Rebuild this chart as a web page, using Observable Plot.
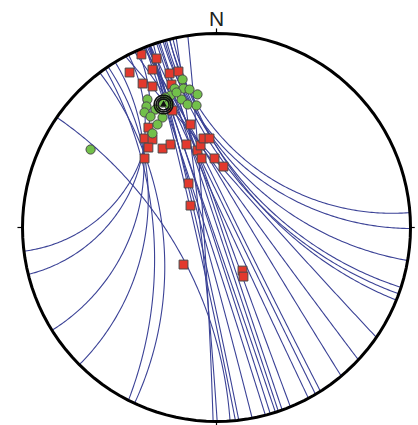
<!DOCTYPE html>
<html><head><meta charset="utf-8">
<script src="https://cdn.jsdelivr.net/npm/d3@7"></script>
<script src="https://cdn.jsdelivr.net/npm/@observablehq/plot@0.6"></script>
<style>html,body{margin:0;padding:0;background:#fff;} #chart{position:absolute;left:0;top:0;}</style>
</head><body><div id="chart"></div>
<script>
// Traces: azimuths (degrees clockwise from N) where each trace meets the primitive circle,
// and a bend (1 = arc meeting the primitive at right angles, 0 = straight)
const traceStartAz = [336, 333, 328.5, 326, 323, 325,
  346, 344, 345, 346, 344.5, 347,
  332, 335, 338, 340, 339, 338.5, 342.5, 343, 342, 339.5, 340, 338.5, 339.7, 341, 340, 348, 351.5,
  304.6];
const traceEndAz = [263, 256, 238, 225, 205, 207,
  85.6, 90.3, 99.8, 108, 110, 112,
  124.5, 133, 140, 147.6, 149.3, 151.7, 157.6, 160.2, 161.4, 162.3, 163.9, 165.4, 169.4, 173.4, 174.4, 179.8, 181,
  176];
const traceBend = [1, 1, 1, 1, 1, 0.8,
  1, 1, 1, 1, 1, 1,
  0.1, 0.1, 0.1, 0.15, 0.1, 0.15, 0.2, 0.2, 0.2, 0.2, 0.2, 0.2, 0.25, 0.25, 0.25, 0.4, 0.4,
  1];

// Red squares (unit-disk east, north)
const squareE = [-0.387,-0.309,-0.448,-0.330,-0.242,-0.196,-0.381,-0.330,-0.232,-0.227,-0.134,-0.351,-0.371,-0.330,-0.351,-0.278,-0.237,-0.155,-0.098,-0.082,-0.067,-0.036,-0.371,-0.077,-0.010,0.036,-0.144,-0.134,-0.170,0.134,0.139];
const squareN = [0.892,0.871,0.799,0.814,0.794,0.804,0.742,0.727,0.737,0.603,0.531,0.515,0.459,0.454,0.412,0.407,0.428,0.428,0.397,0.423,0.459,0.459,0.356,0.356,0.356,0.314,0.227,0.113,-0.191,-0.222,-0.253];

// Green circles (unit-disk east, north)
const circleE = [-0.175,-0.216,-0.170,-0.139,-0.098,-0.180,-0.149,-0.103,-0.237,-0.263,-0.356,-0.361,-0.371,-0.314,-0.278,-0.278,-0.304,-0.330,-0.206,-0.247,-0.340,-0.649];
const circleN = [0.763,0.716,0.716,0.711,0.686,0.660,0.634,0.629,0.680,0.670,0.660,0.624,0.593,0.608,0.644,0.567,0.531,0.485,0.696,0.634,0.572,0.402];

// Mean and confidence cones
const meanE = -0.273, meanN = 0.634;
const coneRadii = [0.048, 0.038, 0.028];
const northLabel = "N";

const rad = Math.PI / 180;
function trace(a1, a2, bend, id) {
  const p1 = [Math.sin(a1 * rad), Math.cos(a1 * rad)];
  const p2 = [Math.sin(a2 * rad), Math.cos(a2 * rad)];
  const d = (((a2 - a1) % 360) + 360) % 360;
  const h = Math.min(d, 360 - d) / 2 * rad;
  const sOrth = Math.cos(h) < 1e-6 ? 0 : Math.sin(h) * (1 - Math.sin(h)) / Math.cos(h);
  const s = bend * sOrth;
  const M = [(p1[0] + p2[0]) / 2, (p1[1] + p2[1]) / 2];
  const mLen = Math.hypot(M[0], M[1]);
  const n = 160, pts = [];
  if (Math.abs(s) < 1e-5 || mLen < 1e-6) {
    for (let i = 0; i <= n; i++) {
      const t = i / n;
      pts.push({x: p1[0] + (p2[0] - p1[0]) * t, y: p1[1] + (p2[1] - p1[1]) * t, id});
    }
    return pts;
  }
  const nv = [-M[0] / mLen, -M[1] / mLen];
  const L = Math.hypot(p2[0] - p1[0], p2[1] - p1[1]) / 2;
  const rho = (L * L + s * s) / (2 * Math.abs(s));
  const apex = [M[0] + s * nv[0], M[1] + s * nv[1]];
  const sg = Math.sign(s);
  const C = [apex[0] - sg * rho * nv[0], apex[1] - sg * rho * nv[1]];
  const t1 = Math.atan2(p1[1] - C[1], p1[0] - C[0]);
  const t2 = Math.atan2(p2[1] - C[1], p2[0] - C[0]);
  let dt = t2 - t1;
  while (dt > Math.PI) dt -= 2 * Math.PI;
  while (dt < -Math.PI) dt += 2 * Math.PI;
  for (let i = 0; i <= n; i++) {
    const t = t1 + dt * i / n;
    pts.push({x: C[0] + rho * Math.cos(t), y: C[1] + rho * Math.sin(t), id});
  }
  return pts;
}

const traces = traceStartAz.flatMap((a, i) => trace(a, traceEndAz[i], traceBend[i], i));
const squares = squareE.map((e, i) => ({x: e, y: squareN[i]}));
const greens = circleE.map((e, i) => ({x: e, y: circleN[i]}));
const ring = (cx, cy, r, id) => d3.range(0, 361, 3).map(a => ({x: cx + r * Math.sin(a * rad), y: cy + r * Math.cos(a * rad), id}));
const primitive = ring(0, 0, 1, "p");
const cones = coneRadii.flatMap((r, i) => ring(meanE, meanN, r, i));
const ticks = [
  {x1: 0, y1: 1, x2: 0, y2: 1.026},
  {x1: 0, y1: -1, x2: 0, y2: -1.022},
  {x1: -1, y1: 0, x2: -1.026, y2: 0},
  {x1: 1, y1: 0, x2: 1.022, y2: 0}
];

const chart = Plot.plot({
  width: 418, height: 425, margin: 0,
  x: {domain: [-1, 1], range: [22, 410], axis: null},
  y: {domain: [-1, 1], range: [421, 33], axis: null},
  style: {background: "#fff"},
  marks: [
    Plot.line(traces, {x: "x", y: "y", z: "id", stroke: "#3b4296", strokeWidth: 1.1}),
    Plot.dot(squares, {x: "x", y: "y", symbol: "square", r: 5, fill: "#e2392d", stroke: "#4a4a4a", strokeWidth: 1}),
    Plot.dot(greens, {x: "x", y: "y", r: 4.6, fill: "#72c04a", stroke: "#4a4a4a", strokeWidth: 1}),
    Plot.line(cones, {x: "x", y: "y", z: "id", stroke: "#111", strokeWidth: 1.6}),
    Plot.dot([{x: meanE, y: meanN}], {x: "x", y: "y", symbol: "triangle", r: 2.5, fill: "#111"}),
    Plot.line(primitive, {x: "x", y: "y", stroke: "#000", strokeWidth: 3}),
    Plot.link(ticks, {x1: "x1", y1: "y1", x2: "x2", y2: "y2", stroke: "#000", strokeWidth: 1.2}),
    Plot.text([{x: 0, y: 1.041, t: northLabel}], {x: "x", y: "y", text: "t", fontSize: 21, fontFamily: "Liberation Sans, Arial, sans-serif", fill: "#222", textAnchor: "middle", lineAnchor: "bottom"})
  ]
});
document.getElementById("chart").appendChild(chart);
</script>
</body></html>
